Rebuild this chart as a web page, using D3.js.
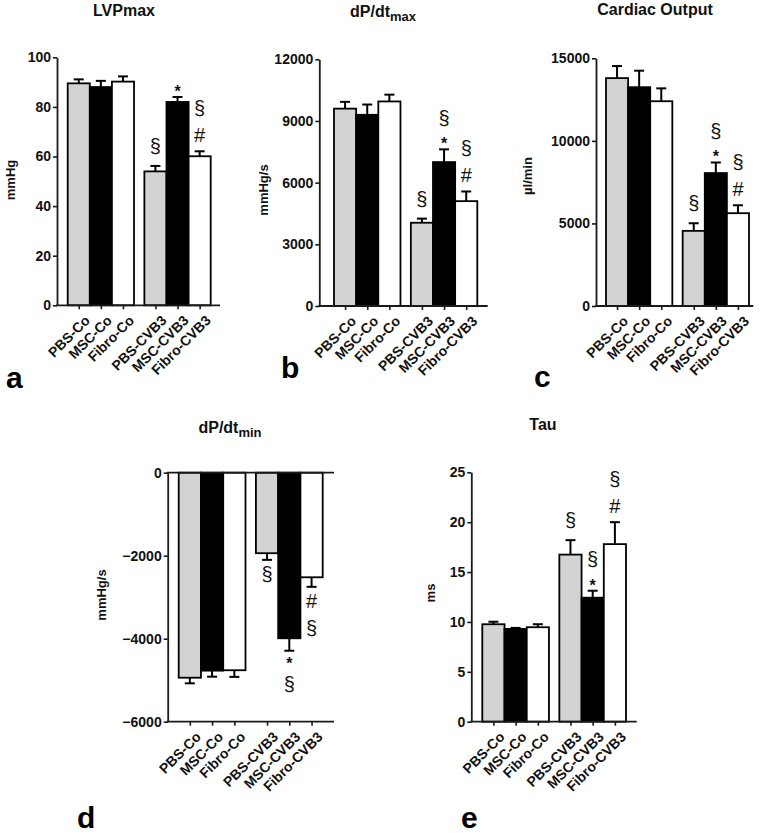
<!DOCTYPE html>
<html><head><meta charset="utf-8">
<script src="https://cdn.jsdelivr.net/npm/d3@7"></script>
<style>
body{margin:0;background:#fff}
svg{display:block}
text{font-family:"Liberation Sans",Arial,Helvetica,sans-serif}
</style>
</head><body>
<svg id="chart" width="764" height="833"></svg>
<script>
// ---------------- data ----------------
const categories = ["PBS-Co","MSC-Co","Fibro-Co","PBS-CVB3","MSC-CVB3","Fibro-CVB3"];
const groups = ["Co","CVB3"];
const treatments = ["PBS","MSC","Fibro"];

const lvpMean = [89.5, 88, 90.2, 54, 82, 60.1];
const lvpErr  = [1.6, 2.5, 2.1, 2.2, 2.0, 2.0];
const lvpTicks = [0, 20, 40, 60, 80, 100];
const lvpAnn = [[], [], [], ["§"], ["*"], ["#","§"]];

const dpdtMaxMean = [9600, 9300, 9950, 4050, 7000, 5100];
const dpdtMaxErr  = [330, 500, 330, 200, 620, 470];
const dpdtMaxTicks = [0, 3000, 6000, 9000, 12000];
const dpdtMaxAnn = [[], [], [], ["§"], ["*","§"], ["#","§"]];

const coMean = [13800, 13250, 12400, 4550, 8050, 5620];
const coErr  = [730, 1000, 780, 460, 640, 480];
const coTicks = [0, 5000, 10000, 15000];
const coAnn = [[], [], [], ["§"], ["*","§"], ["#","§"]];

const dpdtMinMean = [-4940, -4770, -4760, -1940, -3990, -2520];
const dpdtMinErr  = [135, 145, 160, 160, 300, 230];
const dpdtMinTicks = [0, -2000, -4000, -6000];
const dpdtMinAnn = [[], [], [], ["§"], ["*","§"], ["#","§"]];

const tauMean = [9.77, 9.3, 9.47, 16.75, 12.43, 17.8];
const tauErr  = [0.25, 0.1, 0.3, 1.45, 0.7, 2.2];
const tauTicks = [0, 5, 10, 15, 20, 25];
const tauAnn = [[], [], [], ["§"], ["*","§"], ["#","§"]];

// ---------------- layout / style ----------------
const fills = {PBS:"#d3d3d3", MSC:"#000000", Fibro:"#ffffff"};
const panels = [
  {title:"LVPmax", sub:null, ylabel:"mmHg", mean:lvpMean, err:lvpErr, ticks:lvpTicks, ann:lvpAnn,
   domain:[0,100], ax:57, yTop:57.3, yBot:305.3, xEnd:220, bars:[67.7,210.7],
   titleX:124, titleY:16, ylabX:10, ylabY:180, letter:"a", letX:6, letY:388},
  {title:"dP/dt", sub:"max", ylabel:"mmHg/s", mean:dpdtMaxMean, err:dpdtMaxErr, ticks:dpdtMaxTicks, ann:dpdtMaxAnn,
   domain:[0,12000], ax:319.3, yTop:59.3, yBot:306, xEnd:487.7, bars:[334,477.3],
   titleX:383, titleY:17, ylabX:263, ylabY:190, letter:"b", letX:281, letY:378},
  {title:"Cardiac Output", sub:null, ylabel:"µl/min", mean:coMean, err:coErr, ticks:coTicks, ann:coAnn,
   domain:[0,15000], ax:596, yTop:58.3, yBot:306, xEnd:753.3, bars:[606,749],
   titleX:655, titleY:15, ylabX:527, ylabY:176, letter:"c", letX:534, letY:387},
  {title:"dP/dt", sub:"min", ylabel:"mmHg/s", mean:dpdtMinMean, err:dpdtMinErr, ticks:dpdtMinTicks, ann:dpdtMinAnn,
   domain:[-6000,0], ax:167.7, yTop:472.7, yBot:721.7, xEnd:334, bars:[178.7,322.7],
   titleX:230, titleY:433, ylabX:101, ylabY:595, letter:"d", letX:77, letY:828},
  {title:"Tau", sub:null, ylabel:"ms", mean:tauMean, err:tauErr, ticks:tauTicks, ann:tauAnn,
   domain:[0,25], ax:471.3, yTop:472.3, yBot:721.7, xEnd:636.7, bars:[482.3,626],
   titleX:543, titleY:430, ylabX:430, ylabY:593, letter:"e", letX:461, letY:828}
];

const glyph = {
  "§": {size:20, weight:"normal", top:-14.5, bottom:3.8},
  "#": {size:20, weight:"normal", top:-14.3, bottom:0},
  "*": {size:16, weight:"bold",   top:-11.5, bottom:-5}
};
const axisColor = "#1a1a1a";

const svg = d3.select("#chart");

panels.forEach(p => {
  const g = svg.append("g");
  const y = d3.scaleLinear().domain(p.domain).range([p.yBot, p.yTop]);
  const outer = d3.scaleBand().domain(groups).range(p.bars).paddingInner(0.135).paddingOuter(0);
  const inner = d3.scaleBand().domain(treatments).range([0, outer.bandwidth()]).padding(0);
  const rows = categories.map((c, i) => {
    const grp = groups[Math.floor(i / 3)], tr = treatments[i % 3];
    const x0 = outer(grp) + inner(tr);
    return {c, i, grp, tr, x0, w: inner.bandwidth(), cx: x0 + inner.bandwidth() / 2,
            v: p.mean[i], e: p.err[i], ann: p.ann[i]};
  });
  const negative = p.domain[1] <= 0;
  const baseY = negative ? y(p.domain[0]) : y(0);

  // bars
  g.selectAll("rect.bar").data(rows).join("rect")
    .attr("x", d => d.x0).attr("width", d => d.w)
    .attr("y", d => y(Math.max(0, d.v)))
    .attr("height", d => Math.abs(y(d.v) - y(0)))
    .attr("fill", d => fills[d.tr]).attr("stroke", "#000").attr("stroke-width", 1.8);

  // error bars + annotations
  const capHalf = 5;
  rows.forEach(d => {
    const ve = negative ? d.v - d.e : d.v + d.e;
    g.append("line").attr("x1", d.cx).attr("x2", d.cx).attr("y1", y(d.v)).attr("y2", y(ve))
      .attr("stroke", "#000").attr("stroke-width", 2);
    g.append("line").attr("x1", d.cx - capHalf).attr("x2", d.cx + capHalf).attr("y1", y(ve)).attr("y2", y(ve))
      .attr("stroke", "#000").attr("stroke-width", 2);
    let cursor = y(ve);
    if (!negative) {
      d.ann.forEach((s, k) => {
        const m = glyph[s];
        cursor -= (k === 0 ? (s === "*" ? 5 : 9) : 9);
        const base = cursor - m.bottom;
        g.append("text").attr("x", d.cx).attr("y", base).attr("text-anchor", "middle")
          .attr("font-size", m.size).attr("font-weight", m.weight).attr("fill", "#111").text(s);
        cursor = base + m.top;
      });
    } else {
      d.ann.forEach((s, k) => {
        const m = glyph[s];
        cursor += (k === 0 ? 7 : 12);
        const base = cursor - m.top;
        g.append("text").attr("x", d.cx).attr("y", base).attr("text-anchor", "middle")
          .attr("font-size", m.size).attr("font-weight", m.weight).attr("fill", "#111").text(s);
        cursor = base + m.bottom;
      });
    }
  });

  // y axis
  const yAxis = g.append("g").attr("transform", `translate(${p.ax},0)`)
    .call(d3.axisLeft(y).tickValues(p.ticks).tickSize(4).tickSizeOuter(0).tickPadding(2).tickFormat(d3.format("d")));
  yAxis.select(".domain").attr("stroke", axisColor).attr("stroke-width", 1.8);
  yAxis.selectAll(".tick line").attr("stroke", axisColor).attr("stroke-width", 1.6);
  yAxis.selectAll(".tick text").attr("font-size", 14).attr("font-weight", "bold")
    .attr("font-family", '"Liberation Sans",Arial,sans-serif').attr("fill", "#111");

  // x axis lines
  g.append("line").attr("x1", p.ax - 0.9).attr("x2", p.xEnd).attr("y1", y(0)).attr("y2", y(0))
    .attr("stroke", axisColor).attr("stroke-width", 1.8);
  if (negative) {
    g.append("line").attr("x1", p.ax - 0.9).attr("x2", p.xEnd).attr("y1", baseY).attr("y2", baseY)
      .attr("stroke", axisColor).attr("stroke-width", 1.8);
  }
  const xPos = d3.scaleOrdinal().domain(categories).range(rows.map(r => r.cx));
  const xAxis = g.append("g").attr("transform", `translate(0,${baseY})`)
    .call(d3.axisBottom(xPos).tickSize(4).tickSizeOuter(0).tickFormat(""));
  xAxis.select(".domain").remove();
  xAxis.selectAll(".tick line").attr("stroke", axisColor).attr("stroke-width", 1.6);

  // x labels
  g.selectAll("text.xl").data(rows).join("text")
    .attr("transform", d => `translate(${xPos(d.c) + 5},${baseY + 9}) rotate(-45)`)
    .attr("text-anchor", "end").attr("dy", "0.71em")
    .attr("font-size", 14).attr("font-weight", "bold").attr("fill", "#111").text(d => d.c);

  // title
  const t = g.append("text").attr("x", p.titleX).attr("y", p.titleY).attr("text-anchor", "middle")
    .attr("font-size", 16).attr("font-weight", "bold").attr("fill", "#111");
  t.append("tspan").text(p.title);
  if (p.sub) t.append("tspan").attr("dy", 4).attr("font-size", 13).text(p.sub);

  // y label
  g.append("text").attr("transform", `translate(${p.ylabX},${p.ylabY}) rotate(-90)`)
    .attr("text-anchor", "middle").attr("dy", "0.35em")
    .attr("font-size", 13).attr("font-weight", "bold").attr("fill", "#111").text(p.ylabel);

  // panel letter
  g.append("text").attr("x", p.letX).attr("y", p.letY)
    .attr("font-size", 30).attr("font-weight", "bold").attr("fill", "#000").text(p.letter);
});
</script>
</body></html>
